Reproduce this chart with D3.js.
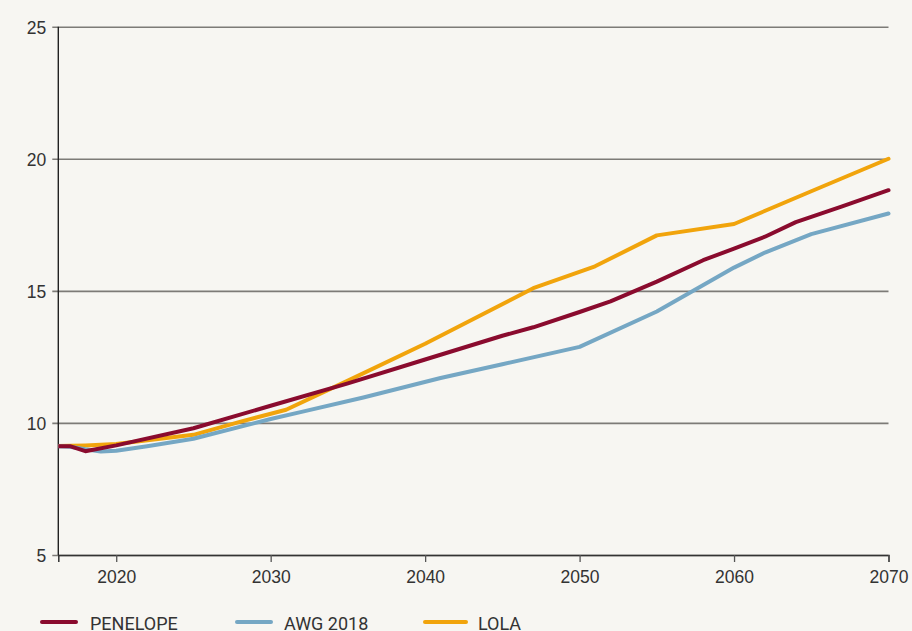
<!DOCTYPE html>
<html>
<head>
<meta charset="utf-8">
<script src="https://cdn.jsdelivr.net/npm/d3@7"></script>
<style>
  html, body { margin: 0; padding: 0; background: #f7f6f2; }
  svg { display: block; font-family: Roboto, "Noto Sans", sans-serif; }
</style>
</head>
<body>
<svg id="chart" width="912" height="631"></svg>
<script>
// Projected values per scenario, 2016–2070
const penelopeYears  = [2016, 2017, 2018, 2020, 2025, 2030, 2035, 2040, 2045, 2047, 2050, 2052, 2055, 2058, 2060, 2062, 2064, 2067, 2070];
const penelopeValues = [9.12, 9.12, 8.93, 9.15, 9.8, 10.65, 11.5, 12.4, 13.3, 13.62, 14.2, 14.6, 15.35, 16.16, 16.6, 17.05, 17.6, 18.2, 18.81];

const awgYears  = [2016, 2017, 2018, 2019, 2020, 2022, 2025, 2026, 2030, 2032, 2036, 2041, 2045, 2050, 2055, 2060, 2062, 2065, 2070];
const awgValues = [9.12, 9.1, 9.0, 8.92, 8.95, 9.12, 9.4, 9.55, 10.15, 10.42, 10.96, 11.7, 12.22, 12.88, 14.22, 15.88, 16.45, 17.15, 17.93];

const lolaYears  = [2016, 2018, 2020, 2025, 2028, 2031, 2035, 2040, 2043, 2047, 2051, 2055, 2060, 2065, 2070];
const lolaValues = [9.12, 9.15, 9.2, 9.55, 10.04, 10.5, 11.6, 13.0, 13.9, 15.1, 15.93, 17.1, 17.53, 18.77, 20.0];

const seriesNames  = ["PENELOPE", "AWG 2018", "LOLA"];
const seriesColors = ["#8a0b2e", "#75a7c4", "#f1a40c"];

const xTicks = [2020, 2030, 2040, 2050, 2060, 2070];
const yTicks = [5, 10, 15, 20, 25];

const series = [
  { name: seriesNames[0], color: seriesColors[0], years: penelopeYears, values: penelopeValues },
  { name: seriesNames[1], color: seriesColors[1], years: awgYears, values: awgValues },
  { name: seriesNames[2], color: seriesColors[2], years: lolaYears, values: lolaValues }
];

const svg = d3.select("#chart");
const plotLeft = 58.3, plotRight = 888.5, plotTop = 26.7, plotBottom = 555;

const x = d3.scaleLinear().domain([2016.25, 2070]).range([plotLeft, plotRight]);
const y = d3.scaleLinear().domain([5, 25]).range([plotBottom, plotTop]);

const textColor = "#333333";
const fontSize = "17.5px";

// Horizontal gridlines with short outside ticks
const yAxis = svg.append("g")
  .attr("transform", `translate(${plotLeft},0)`)
  .call(d3.axisLeft(y).tickValues(yTicks).tickSize(-(plotRight - plotLeft)).tickSizeOuter(0).tickPadding(12));
yAxis.select(".domain").remove();
yAxis.selectAll(".tick line")
  .attr("x1", -6)
  .attr("stroke", "#7d7b77")
  .attr("stroke-width", 1.6);
yAxis.selectAll(".tick text")
  .attr("fill", textColor)
  .style("font-size", fontSize)
  .attr("dy", "0.36em");

// Bottom axis
const xAxis = svg.append("g")
  .attr("transform", `translate(0,${plotBottom})`)
  .call(d3.axisBottom(x).tickValues(xTicks).tickFormat(d3.format("d")).tickSize(7).tickSizeOuter(7).tickPadding(9));
xAxis.select(".domain").attr("stroke", "#333").attr("stroke-width", 1.5);
xAxis.selectAll(".tick line").attr("stroke", "#555").attr("stroke-width", 1.3);
xAxis.selectAll(".tick text")
  .attr("fill", textColor)
  .style("font-size", fontSize);

// Vertical axis line
svg.append("line")
  .attr("x1", plotLeft).attr("x2", plotLeft)
  .attr("y1", y(25)).attr("y2", plotBottom)
  .attr("stroke", "#222").attr("stroke-width", 1.4);

// Lines, clipped to the plotting area
svg.append("clipPath").attr("id", "plot-clip")
  .append("rect")
  .attr("x", plotLeft).attr("y", 0)
  .attr("width", plotRight - plotLeft + 10).attr("height", plotBottom);

const line = d3.line()
  .x(d => x(d[0]))
  .y(d => y(d[1]));

const drawOrder = [2, 1, 0];
const lines = svg.append("g").attr("clip-path", "url(#plot-clip)");
drawOrder.forEach(i => {
  const s = series[i];
  lines.append("path")
    .datum(s.years.map((yr, k) => [yr, s.values[k]]))
    .attr("fill", "none")
    .attr("stroke", s.color)
    .attr("stroke-width", 4)
    .attr("stroke-linejoin", "round")
    .attr("stroke-linecap", "round")
    .attr("d", line);
});

// Legend
const legendX = [42, 237, 425];
const legend = svg.append("g");
series.forEach((s, i) => {
  const g = legend.append("g").attr("transform", `translate(${legendX[i]},622)`);
  g.append("line")
    .attr("x1", 0).attr("x2", i === 2 ? 41 : 34)
    .attr("y1", 0).attr("y2", 0)
    .attr("stroke", s.color)
    .attr("stroke-width", 4)
    .attr("stroke-linecap", "round");
  g.append("text")
    .attr("x", i === 2 ? 53 : i === 1 ? 47 : 48)
    .attr("y", 8)
    .attr("fill", textColor)
    .style("font-size", "18px")
    .text(s.name);
});
</script>
</body>
</html>
